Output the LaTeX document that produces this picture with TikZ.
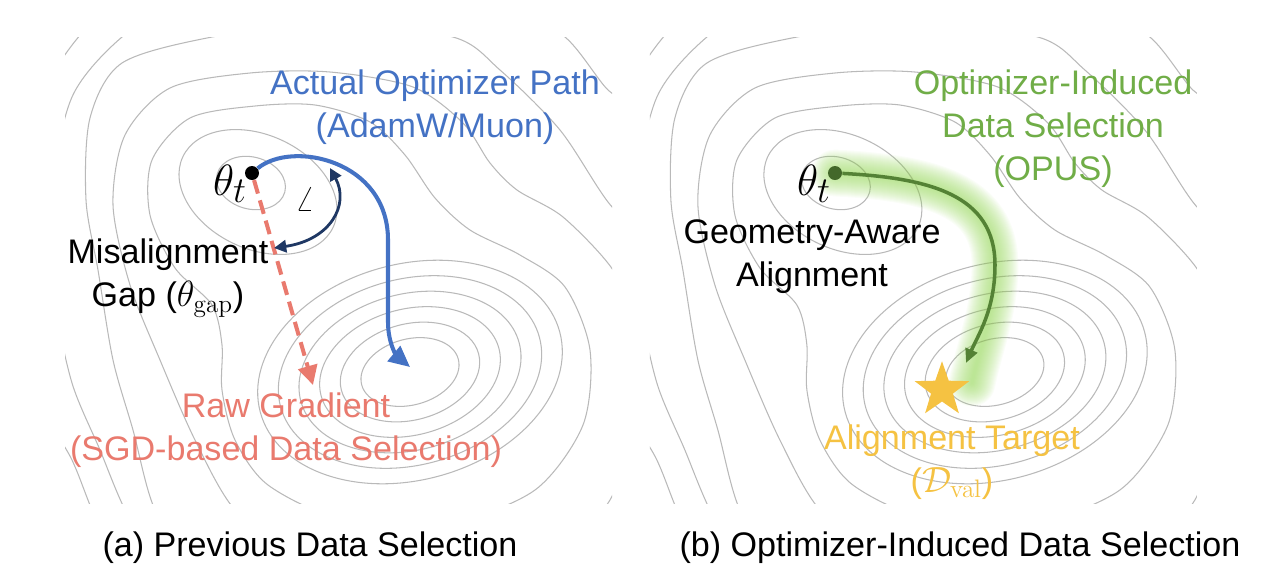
\documentclass[tikz,border=0pt]{standalone}
\usepackage[no-math]{fontspec}
\setmainfont{Liberation Sans}
\usepackage{tikz}
\usetikzlibrary{arrows.meta,shapes.geometric,positioning}
\definecolor{optblue}{RGB}{68,114,196}
\definecolor{rawred}{RGB}{233,122,110}
\definecolor{gapnavy}{RGB}{31,56,100}
\definecolor{opusgreen}{RGB}{112,173,71}
\definecolor{darkgreen}{RGB}{84,130,53}
\definecolor{glowgreen}{RGB}{150,215,90}
\definecolor{targetgold}{RGB}{245,194,66}
\definecolor{contourgray}{RGB}{185,185,185}

% loss landscape behind each panel
\newcommand{\drawlandscape}{%
  \begin{scope}
    \clip (65,37) rectangle (612,503);
    % small basin around theta_t
    \draw[contour, rotate around={-15:(251,183)}] (251,183) ellipse (35 and 26);
    \draw[contour, rotate around={-25:(258,192)}] (258,192) ellipse (83 and 57);
    % main basin
    \foreach \k in {0,...,5}
      \draw[contour, rotate around={15:(410,372)}] (410,372) ellipse ({50+21*\k} and {33+15*\k});
    % levels around both basins
    \draw[contour] plot[smooth cycle] coordinates {
        (255,106) (190,118) (152,160) (150,215) (175,268) (212,305) (222,345)
        (222,390) (235,440) (268,485) (340,518) (450,522) (535,490) (583,425)
        (590,350) (565,287) (520,255) (470,230) (435,198) (405,155) (370,122) (315,105)};
    \draw[contour] plot[smooth cycle] coordinates {
        (250,73) (170,88) (125,135) (113,205) (130,285) (160,360) (195,440)
        (235,510) (300,560) (420,575) (540,560) (610,500) (630,410) (630,320)
        (613,270) (563,217) (517,190) (490,163) (463,123) (413,87) (330,72)};
    \draw[contour] plot[smooth cycle] coordinates {
        (212,37) (122,63) (90,118) (86,200) (98,270) (113,360) (133,430)
        (155,510) (200,580) (400,620) (600,600) (680,500) (690,350) (660,260)
        (608,202) (560,130) (500,70) (453,37) (330,22)};
    \draw[contour] plot[smooth cycle] coordinates {
        (122,37) (72,97) (50,200) (55,300) (72,383) (100,450) (125,510)
        (180,620) (400,670) (650,650) (740,500) (740,320) (700,200) (640,110)
        (608,90) (565,37) (500,0) (300,-20) (180,5)};
    \draw[contour] plot[smooth cycle] coordinates {
        (20,300) (40,400) (72,460) (92,510) (130,600) (400,720) (700,690)
        (800,500) (800,300) (760,100) (650,-30) (400,-60) (150,-20) (40,100)};
  \end{scope}}

\begin{document}
\begin{tikzpicture}[
    x=0.02cm, y=-0.02cm,
    contour/.style={draw=contourgray, line width=0.6pt},
    lbl/.style={font=\fontsize{19.4}{24.5}\selectfont, align=center, inner sep=0pt},
    mathlbl/.style={font=\fontsize{24.88}{28}\selectfont, inner sep=0pt},
    dotnode/.style={circle, inner sep=0pt, minimum size=0.28cm},
    optpath/.style={draw=optblue, line width=2.3pt, -{Triangle[length=12pt,width=11pt]}},
    rawgrad/.style={draw=rawred, line width=2.3pt, dash pattern=on 8pt off 4pt, -{Triangle[length=11pt,width=11pt]}},
    gaparrow/.style={draw=gapnavy, line width=1.6pt, {Triangle[length=7pt,width=7pt]}-{Triangle[length=7pt,width=7pt]}},
    opusarrow/.style={draw=darkgreen, line width=2pt, -{Triangle[length=8pt,width=7pt]}},
    glow/.style={draw=glowgreen, line cap=round, opacity=0.045}
]
    \useasboundingbox (0,0) rectangle (1282,576);

    % (a) previous data selection
    \drawlandscape
    \node[dotnode, fill=black] (thetaA) at (252,173) {};
    \node[mathlbl] (thetaAlbl) at (230,184) {$\theta_t$};
    \coordinate (rawtip) at (313,385);
    \coordinate (mintip) at (410,367);
    \coordinate (gapLo) at (274,248);
    \coordinate (gapHi) at (330,168);

    \draw[rawgrad] (thetaA) -- (rawtip);
    \draw[optpath] (thetaA) .. controls (292,140) and (388,160) .. (388,240)
        -- (388,322) .. controls (388,345) and (398,357) .. (mintip);
    \draw[gaparrow] (gapLo) .. controls (330,240) and (350,205) .. (gapHi);
    \node[font=\fontsize{20.74}{22}\selectfont, inner sep=0pt] (angleA) at (305,199) {$\angle$};

    \node[lbl, text=optblue] (optA) at (435,107) {Actual Optimizer Path\\(AdamW/Muon)};
    \node[lbl] (gapA) at (168,278) {Misalignment\\Gap ($\theta_{\mathrm{gap}}$)};
    \node[lbl, text=rawred] (rawA) at (286,430) {Raw Gradient\\(SGD-based Data Selection)};
    \node[lbl] (capA) at (310,548) {(a) Previous Data Selection};

    % (b) optimizer-induced data selection
    \begin{scope}[xshift=11.7cm]
        \drawlandscape
    \end{scope}
    \coordinate (thetaBpos) at (835,173);
    \coordinate (tgttip) at (966,363);
    \foreach \w in {3,5,...,47}
        \draw[glow, line width=\w*0.567pt] (thetaBpos) .. controls (930,178) and (995,195) .. (995,265)
            .. controls (995,310) and (980,345) .. (972,383);
    \node[dotnode, fill=darkgreen!80!black] (thetaB) at (thetaBpos) {};
    \node[mathlbl] (thetaBlbl) at (814,184) {$\theta_t$};
    \draw[opusarrow] (thetaB) .. controls (930,178) and (995,195) .. (995,265)
        .. controls (995,310) and (978,335) .. (tgttip);
    \node[star, star points=5, star point ratio=2.5, fill=targetgold, inner sep=0pt, minimum size=1.15cm] (target) at (942,390) {};

    \node[lbl, text=opusgreen] (opusB) at (1053,129) {Optimizer-Induced\\Data Selection\\(OPUS)};
    \node[lbl] (geoB) at (812,257) {Geometry-Aware\\Alignment};
    \node[lbl, text=targetgold] (tgtB) at (952,462) {Alignment Target\\($\mathcal{D}_{\mathrm{val}}$)};
    \node[lbl] (capB) at (960,548) {(b) Optimizer-Induced Data Selection};
\end{tikzpicture}
\end{document}
